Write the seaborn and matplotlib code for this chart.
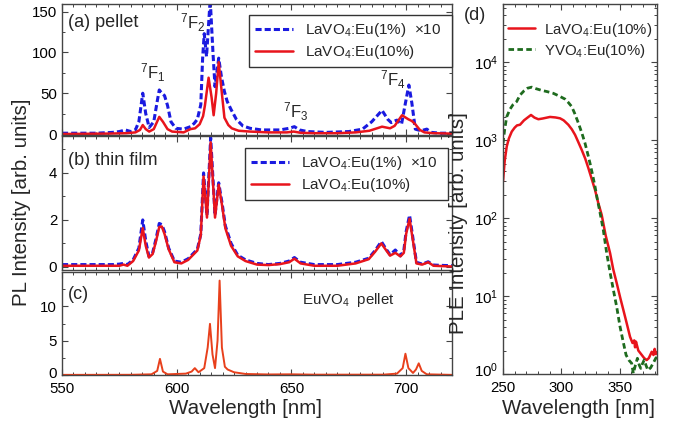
import numpy as np
import pandas as pd
import seaborn as sns
import matplotlib
matplotlib.use("Agg")
import matplotlib.pyplot as plt
import matplotlib.transforms as mtransforms
from matplotlib.ticker import MultipleLocator, LogLocator, NullFormatter, FixedLocator

# ---------------- data ----------------
# (a) pellet
wl_a_blue = [550, 565, 572, 575, 577.6, 580, 582, 583.5, 585.2, 586.5, 588, 590, 591.5, 592.4, 593.5, 594.7, 596, 597.5, 599.6, 603,
             606, 607.6, 609, 610.5, 611.3, 612, 613, 614.6, 615.8, 616.7, 618.3, 619.5, 620.8, 622, 623.7, 626, 628.8, 632, 637, 645,
             649, 651.3, 653.5, 657, 665, 675, 681, 685, 689.5, 692, 693.5, 695, 696, 698, 699.5, 701.2, 702.5, 704, 706.5, 709,
             711, 715, 720]
pl_a_blue = [1, 1, 2, 3, 5, 3, 5, 15, 50, 25, 8, 15, 40, 54, 50, 47, 35, 15, 7, 6,
             9, 13, 18, 36, 93, 123, 95, 165, 100, 58, 93, 70, 52, 40, 30, 18, 10, 7, 5, 5,
             7, 9, 5, 3, 2, 3, 6, 15, 29, 18, 14, 16, 17, 12, 35, 60, 38, 6, 4, 6,
             2, 1, 1]
wl_a_red = [550, 570, 578, 582, 584, 585.2, 586.5, 588, 590, 592.4, 594, 596, 598, 603, 606, 608, 610, 611.5, 612.3, 613.9,
            615.2, 616.1, 617.2, 618.3, 619.5, 620.8, 622.5, 624, 627, 632, 640, 648, 651, 654, 660, 670, 678, 684, 689.5, 693,
            695, 698.2, 701, 702.5, 704, 706, 708, 712, 720]
pl_a_red = [0, 0.5, 1, 2, 5, 11, 6, 3, 6, 21, 15, 6, 3, 2, 6, 7, 12, 22, 35, 69,
            45, 23, 50, 88, 55, 20, 11, 7, 4, 3, 2, 2, 3, 1.5, 1, 1, 2, 4, 9, 7,
            10, 23, 18, 16, 12, 5, 2, 1, 0.5]

# (b) thin film
wl_b = [550, 565, 572, 575, 576.8, 578.5, 581, 583.5, 585.2, 586.5, 587.9, 589.5, 591, 592.4, 593.5, 594.7, 596.5, 599, 602, 605,
        607, 609, 610.5, 611.7, 613.2, 614.8, 616.7, 618.3, 619.8, 621.2, 623.7, 626.6, 630, 635, 640, 645, 649, 651.3, 654, 660,
        670, 678, 683.7, 686.5, 689.2, 691, 693, 695.3, 697.5, 699, 700, 701.5, 703, 704.5, 707, 709.6, 712, 720]
pl_b_blue = [0.1, 0.1, 0.1, 0.12, 0.15, 0.1, 0.3, 0.8, 2.0, 1.1, 0.45, 0.6, 1.2, 1.85, 1.8, 1.5, 0.8, 0.25, 0.2, 0.35,
             0.55, 0.75, 1.4, 4.0, 2.2, 5.5, 2.2, 3.58, 2.7, 1.75, 1.0, 0.5, 0.3, 0.15, 0.1, 0.15, 0.25, 0.4, 0.2, 0.1,
             0.1, 0.2, 0.37, 0.7, 1.08, 0.8, 0.52, 0.72, 0.47, 0.7, 1.5, 2.2, 1.2, 0.2, 0.12, 0.22, 0.08, 0.05]
pl_b_red = [0.05, 0.05, 0.05, 0.05, 0.1, 0.05, 0.25, 0.7, 1.65, 0.9, 0.4, 0.55, 1.1, 1.7, 1.72, 1.4, 0.75, 0.2, 0.15, 0.3,
            0.5, 0.7, 1.35, 3.85, 2.1, 5.3, 2.1, 3.5, 2.6, 1.65, 0.9, 0.45, 0.25, 0.1, 0.08, 0.12, 0.2, 0.35, 0.15, 0.05,
            0.05, 0.15, 0.33, 0.65, 1.0, 0.75, 0.48, 0.6, 0.45, 0.6, 1.4, 2.05, 1.1, 0.15, 0.1, 0.2, 0.05, 0.02]

# (c) EuVO4 pellet
wl_c = [550, 580, 589, 591.5, 592.7, 594, 596, 604, 606.5, 607.9, 609.5, 612, 613.5, 614.5, 615.6, 616.7, 617.8, 618.7, 619.7, 621,
        622.2, 625, 630, 640, 650, 660, 690, 696, 698.5, 699.7, 701, 703, 704.3, 705.5, 706.8, 709, 720]
pl_c = [0.02, 0.03, 0.1, 0.6, 2.35, 0.5, 0.1, 0.2, 0.5, 1.0, 0.4, 1.0, 4.0, 7.45, 3.0, 1.0, 5.0, 13.75, 4.0, 1.2,
        0.8, 0.4, 0.15, 0.08, 0.1, 0.05, 0.05, 0.2, 1.0, 3.1, 1.0, 0.3, 0.8, 1.7, 0.6, 0.1, 0.02]

# (d) PLE
wl_d_la = [250, 251.5, 253.2, 255, 257.5, 260, 262, 264.6, 268, 271, 274, 277, 280.3, 284, 290.3, 295, 298.9, 302, 306, 309,
           311.8, 314.5, 317.5, 320.5, 323.2, 326, 328.9, 331.5, 334.6, 338, 341.8, 344.5, 347.5, 350.5, 353.2, 356, 358.9, 361, 362.5, 363.2,
           364, 366, 369, 371, 373.2, 375, 377.5, 379, 380, 381, 382]
ple_la = [295, 550, 830, 1050, 1290, 1450, 1550, 1580, 1800, 1950, 2110, 1950, 1860, 1900, 1990, 1960, 1910, 1800, 1580, 1380,
          1170, 950, 750, 580, 437, 320, 230, 160, 110, 60, 35.5, 22, 14.6, 9.5, 6.6, 4.5, 3.0, 2.5, 2.7, 2.2,
          2.6, 2.0, 1.75, 1.6, 1.51, 1.6, 1.93, 1.75, 2.1, 1.8, 1.9]
wl_d_y = [250, 251.5, 253.2, 256, 258.5, 261.7, 264.6, 268, 271, 274.6, 278, 283.2, 288, 293.1, 298, 303.2, 306, 308.9, 311.5, 314.6,
          317.5, 320.3, 322.5, 324.6, 326.8, 328.9, 331, 333.2, 336, 338.9, 341.8, 344.6, 347.5, 350.3, 353, 355.5, 358, 360.3, 361.7, 363.5,
          365.2, 366.8, 368.1, 369.5, 371, 372.5, 374.2, 376.5, 379, 381, 382]
ple_y = [910, 1400, 2000, 2500, 2850, 3130, 3800, 4300, 4650, 4800, 4600, 4360, 4200, 4000, 3700, 3370, 3050, 2700, 2200, 1660,
         1250, 915, 680, 505, 360, 253, 170, 117, 70, 35.5, 20, 12, 7.2, 4.06, 2.6, 1.75, 1.5, 1.37, 1.02, 1.3,
         1.59, 1.3, 1.18, 1.35, 1.51, 1.3, 1.12, 1.2, 1.4, 1.6, 1.65]

lab_1 = "LaVO$_4$:Eu(1%)  $\\times$10  "
lab_10 = "LaVO$_4$:Eu(10%)"
lab_y = "YVO$_4$:Eu(10%)"

# ---------------- style ----------------
sns.set_style("ticks")
plt.rcParams.update({
    "font.family": ["Liberation Sans", "DejaVu Sans"],
    "mathtext.fontset": "custom",
    "mathtext.rm": "Liberation Sans",
    "mathtext.it": "Liberation Sans:italic",
    "mathtext.bf": "Liberation Sans:bold",
    "mathtext.default": "regular",
    "xtick.direction": "in", "ytick.direction": "in",
    "xtick.top": True, "ytick.right": True,
    "xtick.minor.visible": True, "ytick.minor.visible": True,
    "xtick.major.size": 4.5, "ytick.major.size": 4.5,
    "xtick.minor.size": 2.5, "ytick.minor.size": 2.5,
    "xtick.major.width": 0.8, "ytick.major.width": 0.8,
    "xtick.minor.width": 0.7, "ytick.minor.width": 0.7,
    "xtick.major.pad": 5.0, "ytick.major.pad": 3.5,
    "axes.edgecolor": "#444444", "axes.linewidth": 1.0,
    "xtick.color": "#444444", "ytick.color": "#444444",
    "xtick.labelcolor": "black", "ytick.labelcolor": "black",
    "xtick.labelsize": 10.8, "ytick.labelsize": 10.8,
})

BLUE = "#1a1ae0"
RED = "#e8141c"
ORANGE = "#e8401c"
GREEN = "#1e6b1e"

fig = plt.figure(figsize=(6.81, 4.28), dpi=100)
L, W = 62 / 681, 390 / 681
def yb(top, bot):
    return [L, 1 - bot / 428, W, (bot - top) / 428]
ax_a = fig.add_axes(yb(4, 135))
ax_b = fig.add_axes(yb(136, 270))
ax_c = fig.add_axes(yb(272, 375))
ax_d = fig.add_axes([503 / 681, 1 - 374 / 428, 154 / 681, 370 / 428])

def line(ax, x, y, color, ls, lw, label=None):
    df = pd.DataFrame({"x": x, "y": y})
    sns.lineplot(data=df, x="x", y="y", ax=ax, color=color, linestyle=ls, linewidth=lw,
                 sort=False, estimator=None, label=label, legend=False)

dash = (0, (2.0, 1.0))
# (a)
line(ax_a, wl_a_blue, pl_a_blue, BLUE, dash, 2.2, lab_1)
line(ax_a, wl_a_red, pl_a_red, RED, "-", 1.8, lab_10)
# (b)
line(ax_b, wl_b, pl_b_blue, BLUE, dash, 2.2, lab_1)
line(ax_b, wl_b, pl_b_red, RED, "-", 1.8, lab_10)
# (c)
line(ax_c, wl_c, pl_c, ORANGE, "-", 1.4)
# (d)
line(ax_d, wl_d_la, ple_la, RED, "-", 1.8, lab_10)
line(ax_d, wl_d_y, ple_y, GREEN, (0, (2.0, 1.2)), 2.0, lab_y)

for ax in (ax_a, ax_b, ax_c):
    ax.set_xlim(550, 720)
    ax.xaxis.set_major_locator(MultipleLocator(50))
    ax.xaxis.set_minor_locator(MultipleLocator(5))
    ax.set_xlabel("")
    ax.set_ylabel("")
for ax in (ax_a, ax_b):
    ax.tick_params(axis="x", labelbottom=False)

ax_a.set_ylim(-1.2, 159.3)
ax_a.yaxis.set_major_locator(MultipleLocator(50))
ax_a.yaxis.set_minor_locator(MultipleLocator(25))
ax_b.set_ylim(-0.13, 5.57)
ax_b.yaxis.set_major_locator(FixedLocator([0, 2, 4]))
ax_b.yaxis.set_minor_locator(FixedLocator([1, 3, 5]))
ax_c.set_ylim(0, 15)
ax_c.yaxis.set_major_locator(FixedLocator([0, 5, 10]))
ax_c.yaxis.set_minor_locator(FixedLocator([2.5, 7.5, 12.5]))

ax_d.set_yscale("log")
ax_d.set_xlim(250, 382)
ax_d.set_ylim(1, 5.6e4)
ax_d.xaxis.set_major_locator(MultipleLocator(50))
ax_d.xaxis.set_minor_locator(MultipleLocator(10))
ax_d.yaxis.set_major_locator(LogLocator(base=10, numticks=10))
ax_d.yaxis.set_minor_locator(LogLocator(base=10, subs=np.arange(2, 10), numticks=20))
ax_d.yaxis.set_minor_formatter(NullFormatter())
ax_d.set_xlabel("")
ax_d.set_ylabel("")

# legends
leg_kw = dict(fontsize=11, frameon=True, fancybox=False, shadow=False, borderaxespad=0,
              handlelength=2.5, handletextpad=0.75, labelspacing=0.25, borderpad=0.4)
for ax, anchor in ((ax_a, (1.0, 0.916)), (ax_b, (0.99, 0.91))):
    lg = ax.legend(loc="upper right", bbox_to_anchor=anchor, **leg_kw)
    lg.get_frame().set_edgecolor("#333333")
    lg.get_frame().set_linewidth(1.0)
    lg.get_frame().set_alpha(1)
ax_d.legend(loc="upper left", bbox_to_anchor=(0.03, 0.955), frameon=False, fontsize=10.8,
            handlelength=1.85, handletextpad=0.55, labelspacing=0.2, borderpad=0, borderaxespad=0)

# texts
ax_a.text(0.015, 0.86, "(a) pellet", transform=ax_a.transAxes, fontsize=13, va="center")
ax_b.text(0.015, 0.82, "(b) thin film", transform=ax_b.transAxes, fontsize=13, va="center")
ax_c.text(0.015, 0.777, "(c)", transform=ax_c.transAxes, fontsize=13, va="center")
ax_c.text(0.615, 0.728, "EuVO$_4$  pellet", transform=ax_c.transAxes, fontsize=10.8, va="center")
for s, x, y in (("$^7$F$_1$", 589.5, 75), ("$^7$F$_2$", 607.0, 137), ("$^7$F$_3$", 652, 27), ("$^7$F$_4$", 694.3, 66)):
    ax_a.text(x, y, s, fontsize=12, ha="center", va="center")

fig.text(475 / 681, 1 - 15 / 428, "(d)", fontsize=13, ha="center", va="center")
fig.text(22 / 681, 1 - 202 / 428, "PL Intensity [arb. units]", rotation=90, fontsize=14.8, ha="center", va="center")
fig.text(459 / 681, 1 - 223 / 428, "PLE Intensity [arb. units]", rotation=90, fontsize=14.8, ha="center", va="center")
fig.text(246 / 681, 1 - 408 / 428, "Wavelength [nm]", fontsize=14.8, ha="center", va="center")
fig.text(579 / 681, 1 - 408 / 428, "Wavelength [nm]", fontsize=14.8, ha="center", va="center")

# lift the lowest y labels slightly so they clear the x tick labels
fig.canvas.draw()
for lbl in ax_d.yaxis.get_majorticklabels():
    if lbl.get_text() and "{0}" in lbl.get_text():
        lbl.set_transform(lbl.get_transform() + mtransforms.ScaledTranslation(0, 5 / 100, fig.dpi_scale_trans))
for lbl in ax_c.yaxis.get_majorticklabels():
    if lbl.get_text() in ("0", "$\\mathdefault{0}$"):
        lbl.set_transform(lbl.get_transform() + mtransforms.ScaledTranslation(0, 3 / 100, fig.dpi_scale_trans))

fig.savefig("out.png", dpi=100)
